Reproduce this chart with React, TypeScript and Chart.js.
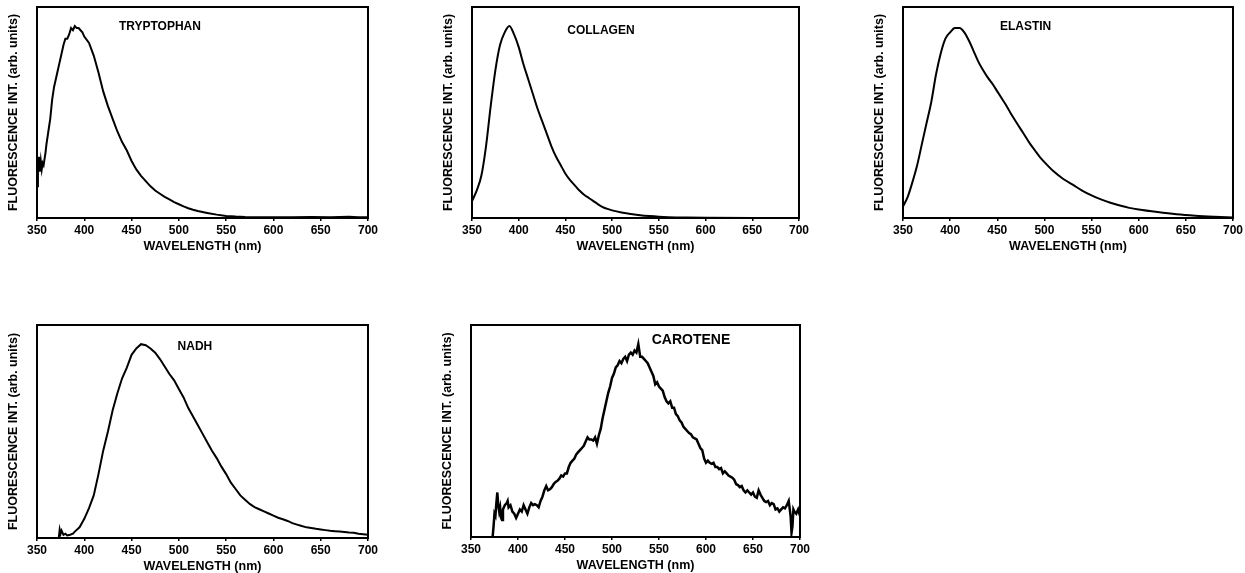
import React, { useEffect, useRef } from "react";
import { Chart, registerables } from "chart.js";

Chart.register(...registerables);

const FONT = "'Liberation Sans', Arial, Helvetica, sans-serif";

// ---- tick labels ----
const xTicks = [350, 400, 450, 500, 550, 600, 650, 700];
const xTitle = "WAVELENGTH (nm)";
const yTitle = "FLUORESCENCE INT. (arb. units)";

// ---- TRYPTOPHAN ----
const tryptophanWl = [350, 351, 352, 353, 354, 355, 356, 357, 358, 359, 360, 362, 364, 366, 368, 370, 372, 374, 376, 378, 380, 382, 384, 386, 388, 390, 392, 394, 396, 398, 400, 405, 410, 415, 420, 425, 430, 435, 440, 445, 450, 455, 460, 465, 470, 475, 480, 485, 490, 495, 500, 505, 510, 515, 520, 530, 540, 550, 560, 570, 580, 600, 620, 640, 660, 680, 690, 700];
const tryptophanInt = [0.15, 0.23, 0.29, 0.22, 0.27, 0.23, 0.26, 0.25, 0.28, 0.31, 0.35, 0.41, 0.47, 0.56, 0.62, 0.66, 0.70, 0.74, 0.78, 0.82, 0.85, 0.85, 0.87, 0.90, 0.89, 0.91, 0.90, 0.90, 0.89, 0.88, 0.86, 0.83, 0.77, 0.69, 0.60, 0.53, 0.47, 0.41, 0.36, 0.32, 0.27, 0.23, 0.20, 0.175, 0.15, 0.13, 0.115, 0.10, 0.088, 0.075, 0.065, 0.055, 0.046, 0.039, 0.033, 0.024, 0.016, 0.010, 0.007, 0.005, 0.004, 0.004, 0.003, 0.005, 0.004, 0.006, 0.004, 0.003];

// ---- COLLAGEN ----
const collagenWl = [350, 355, 360, 365, 370, 375, 380, 385, 390, 395, 400, 405, 410, 415, 420, 425, 430, 435, 440, 445, 450, 455, 460, 465, 470, 475, 480, 485, 490, 495, 500, 510, 520, 530, 540, 550, 560, 580, 600, 650, 700];
const collagenInt = [0.08, 0.13, 0.20, 0.34, 0.53, 0.70, 0.82, 0.88, 0.91, 0.87, 0.81, 0.73, 0.66, 0.59, 0.52, 0.46, 0.40, 0.34, 0.29, 0.25, 0.21, 0.18, 0.155, 0.13, 0.11, 0.095, 0.08, 0.065, 0.052, 0.043, 0.036, 0.026, 0.019, 0.013, 0.009, 0.006, 0.004, 0.002, 0.001, 0.0, 0.0];

// ---- ELASTIN ----
const elastinWl = [350, 355, 360, 365, 370, 375, 380, 385, 390, 395, 400, 405, 410, 415, 420, 425, 430, 435, 440, 445, 450, 455, 460, 465, 470, 475, 480, 485, 490, 495, 500, 510, 520, 530, 540, 550, 560, 570, 580, 590, 600, 620, 640, 660, 680, 700];
const elastinInt = [0.055, 0.10, 0.17, 0.25, 0.35, 0.45, 0.55, 0.68, 0.78, 0.85, 0.88, 0.90, 0.90, 0.88, 0.84, 0.79, 0.74, 0.70, 0.665, 0.635, 0.60, 0.565, 0.53, 0.49, 0.455, 0.42, 0.385, 0.35, 0.32, 0.29, 0.265, 0.22, 0.185, 0.158, 0.13, 0.107, 0.088, 0.072, 0.059, 0.048, 0.040, 0.028, 0.018, 0.011, 0.006, 0.002];

// ---- NADH ----
const nadhWl = [373, 374, 375, 376, 378, 380, 382, 385, 388, 390, 395, 400, 405, 410, 415, 420, 425, 430, 435, 440, 445, 450, 455, 460, 465, 470, 475, 480, 485, 490, 495, 500, 505, 510, 515, 520, 525, 530, 535, 540, 545, 550, 555, 560, 565, 570, 575, 580, 585, 590, 595, 600, 605, 610, 615, 620, 625, 630, 635, 640, 645, 650, 655, 660, 665, 670, 675, 680, 685, 690, 695, 700];
const nadhInt = [0.0, 0.04, 0.02, 0.035, 0.015, 0.02, 0.012, 0.015, 0.02, 0.03, 0.05, 0.09, 0.14, 0.20, 0.30, 0.41, 0.50, 0.60, 0.68, 0.75, 0.80, 0.86, 0.89, 0.91, 0.905, 0.89, 0.87, 0.84, 0.805, 0.77, 0.74, 0.70, 0.66, 0.61, 0.57, 0.53, 0.49, 0.45, 0.41, 0.375, 0.335, 0.30, 0.26, 0.23, 0.20, 0.18, 0.16, 0.145, 0.135, 0.125, 0.115, 0.105, 0.095, 0.088, 0.08, 0.07, 0.063, 0.056, 0.05, 0.047, 0.043, 0.04, 0.037, 0.034, 0.032, 0.03, 0.028, 0.026, 0.025, 0.02, 0.018, 0.015];

// ---- CAROTENE ----
const caroteneWl = [373, 374, 375, 376, 377, 378, 379, 380, 381, 382, 383, 384, 386, 388, 389, 390, 392, 394, 396, 398, 400, 402, 404, 406, 408, 410, 412, 414, 416, 418, 420, 422, 424, 426, 428, 430, 432, 434, 436, 438, 440, 442, 444, 446, 448, 450, 452, 454, 456, 458, 460, 462, 464, 466, 468, 470, 472, 474, 476, 478, 480, 482, 484, 486, 488, 490, 492, 494, 496, 498, 500, 502, 504, 506, 508, 510, 512, 514, 516, 518, 520, 522, 524, 526, 528, 530, 532, 534, 536, 538, 540, 542, 544, 546, 548, 550, 552, 554, 556, 558, 560, 562, 564, 566, 568, 570, 572, 574, 576, 578, 580, 582, 584, 586, 588, 590, 592, 594, 596, 598, 600, 602, 604, 606, 608, 610, 612, 614, 616, 618, 620, 622, 624, 626, 628, 630, 632, 634, 636, 638, 640, 642, 644, 646, 648, 650, 652, 654, 656, 658, 660, 662, 664, 666, 668, 670, 672, 674, 676, 678, 680, 682, 684, 686, 688, 690, 691, 692, 693, 694, 696, 698, 700];
const caroteneInt = [0.0, 0.05, 0.11, 0.10, 0.16, 0.21, 0.15, 0.12, 0.14, 0.09, 0.08, 0.13, 0.15, 0.16, 0.17, 0.14, 0.15, 0.12, 0.11, 0.09, 0.11, 0.13, 0.12, 0.15, 0.13, 0.11, 0.14, 0.16, 0.15, 0.155, 0.15, 0.14, 0.17, 0.19, 0.22, 0.24, 0.22, 0.225, 0.235, 0.25, 0.26, 0.265, 0.275, 0.29, 0.285, 0.30, 0.30, 0.33, 0.35, 0.36, 0.37, 0.39, 0.40, 0.41, 0.42, 0.43, 0.45, 0.47, 0.46, 0.46, 0.455, 0.47, 0.44, 0.48, 0.51, 0.56, 0.60, 0.64, 0.68, 0.71, 0.75, 0.77, 0.80, 0.81, 0.83, 0.82, 0.84, 0.85, 0.83, 0.86, 0.87, 0.86, 0.88, 0.87, 0.91, 0.85, 0.85, 0.84, 0.83, 0.82, 0.80, 0.78, 0.76, 0.72, 0.73, 0.71, 0.70, 0.69, 0.66, 0.64, 0.63, 0.64, 0.61, 0.61, 0.58, 0.57, 0.55, 0.54, 0.52, 0.51, 0.50, 0.49, 0.485, 0.47, 0.465, 0.46, 0.44, 0.42, 0.41, 0.37, 0.35, 0.36, 0.35, 0.345, 0.35, 0.33, 0.33, 0.32, 0.325, 0.30, 0.31, 0.30, 0.29, 0.285, 0.28, 0.27, 0.25, 0.245, 0.235, 0.24, 0.22, 0.21, 0.22, 0.21, 0.20, 0.21, 0.19, 0.185, 0.22, 0.20, 0.185, 0.17, 0.165, 0.17, 0.15, 0.16, 0.155, 0.13, 0.135, 0.12, 0.13, 0.14, 0.135, 0.15, 0.17, 0.10, 0.02, 0.05, 0.13, 0.12, 0.11, 0.13, 0.10];

// ---- panel names and label anchors (in data units) ----
const panelNames = ["TRYPTOPHAN", "COLLAGEN", "ELASTIN", "NADH", "CAROTENE"];
const labelWl = [480, 488, 480, 517, 584];
const labelInt = [0.907, 0.89, 0.907, 0.898, 0.93];

// ---- layout and styles (plot area in page pixels) ----
const layoutBoxes = [
  { L: 37, R: 368, T: 7, B: 218 },
  { L: 472, R: 799, T: 7, B: 218 },
  { L: 903, R: 1233, T: 7, B: 218 },
  { L: 37, R: 368, T: 325, B: 538 },
  { L: 471, R: 800, T: 325, B: 537 },
];
const labelFontSize = [12, 12, 12, 12, 14];
const lineWidths = [2, 2, 2, 2, 2.5];

const seriesWl = [tryptophanWl, collagenWl, elastinWl, nadhWl, caroteneWl];
const seriesInt = [tryptophanInt, collagenInt, elastinInt, nadhInt, caroteneInt];
const smooth = [false, true, true, false, false];

const Y_AXIS_W = 31;
const X_AXIS_H = 36;
const PAD_TOP = 2;
const PAD_RIGHT = 12;

const framePlugin = {
  id: "frame",
  afterDraw(chart: any) {
    const { ctx, chartArea: a } = chart;
    ctx.save();
    ctx.strokeStyle = "#000";
    ctx.lineWidth = 2;
    ctx.strokeRect(a.left, a.top, a.right - a.left, a.bottom - a.top);
    ctx.restore();
  },
};

const labelPlugin = {
  id: "panelLabel",
  afterDatasetsDraw(chart: any, _args: any, opts: any) {
    const { ctx } = chart;
    const x = chart.scales.x;
    const y = chart.scales.y;
    ctx.save();
    ctx.font = `bold ${opts.size}px ${FONT}`;
    ctx.fillStyle = "#000";
    ctx.textAlign = "center";
    ctx.textBaseline = "middle";
    ctx.fillText(opts.text, x.getPixelForValue(opts.x), y.getPixelForValue(opts.y));
    ctx.restore();
  },
};

function Panel({ idx }: { idx: number }) {
  const ref = useRef<HTMLCanvasElement | null>(null);
  const box = layoutBoxes[idx];
  const w = Y_AXIS_W + (box.R - box.L) + PAD_RIGHT;
  const h = PAD_TOP + (box.B - box.T) + X_AXIS_H;

  useEffect(() => {
    if (!ref.current) return;
    const wl = seriesWl[idx];
    const vals = seriesInt[idx];
    const chart = new Chart(ref.current, {
      type: "line",
      data: {
        datasets: [
          {
            data: wl.map((x, i) => ({ x, y: vals[i] })),
            borderColor: "#000",
            borderWidth: lineWidths[idx],
            pointRadius: 0,
            fill: false,
            tension: 0,
            cubicInterpolationMode: smooth[idx] ? "monotone" : "default",
          } as any,
        ],
      },
      options: {
        animation: false,
        responsive: false,
        events: [],
        layout: { padding: { top: PAD_TOP, right: PAD_RIGHT, left: 0, bottom: 0 } },
        plugins: {
          legend: { display: false },
          tooltip: { enabled: false },
          panelLabel: {
            text: panelNames[idx],
            x: labelWl[idx],
            y: labelInt[idx],
            size: labelFontSize[idx],
          },
        } as any,
        scales: {
          x: {
            type: "linear",
            min: 350,
            max: 700,
            afterBuildTicks: (s: any) => {
              s.ticks = xTicks.map((v) => ({ value: v }));
            },
            afterFit: (s: any) => {
              s.height = X_AXIS_H;
            },
            ticks: {
              font: { family: FONT, size: 12, weight: "bold" },
              color: "#000",
              padding: 2,
              maxRotation: 0,
              autoSkip: false,
            },
            grid: {
              drawOnChartArea: false,
              drawTicks: true,
              tickLength: 3,
              color: "#000",
              lineWidth: 1.5,
            },
            border: { display: false },
            title: {
              display: true,
              text: xTitle,
              font: { family: FONT, size: 12.5, weight: "bold" },
              color: "#000",
              padding: 0,
            },
          },
          y: {
            type: "linear",
            min: 0,
            max: 1,
            afterFit: (s: any) => {
              s.width = Y_AXIS_W;
            },
            ticks: { display: false },
            grid: { display: false },
            border: { display: false },
            title: {
              display: true,
              text: yTitle,
              font: { family: FONT, size: 12.5, weight: "bold" },
              color: "#000",
              padding: 0,
            },
          },
        } as any,
      },
      plugins: [framePlugin, labelPlugin],
    });
    return () => chart.destroy();
  }, [idx]);

  return (
    <canvas
      ref={ref}
      width={w}
      height={h}
      style={{
        position: "absolute",
        left: box.L - Y_AXIS_W,
        top: box.T - PAD_TOP,
        width: w,
        height: h,
      }}
    />
  );
}

export default function App() {
  useEffect(() => {
    document.body.style.overflow = "hidden";
  }, []);
  return (
    <div
      style={{
        position: "fixed",
        left: 0,
        top: 0,
        width: 1245,
        height: 573,
        overflow: "hidden",
        background: "#fff",
      }}
    >
      {panelNames.map((_, i) => (
        <Panel key={i} idx={i} />
      ))}
    </div>
  );
}
